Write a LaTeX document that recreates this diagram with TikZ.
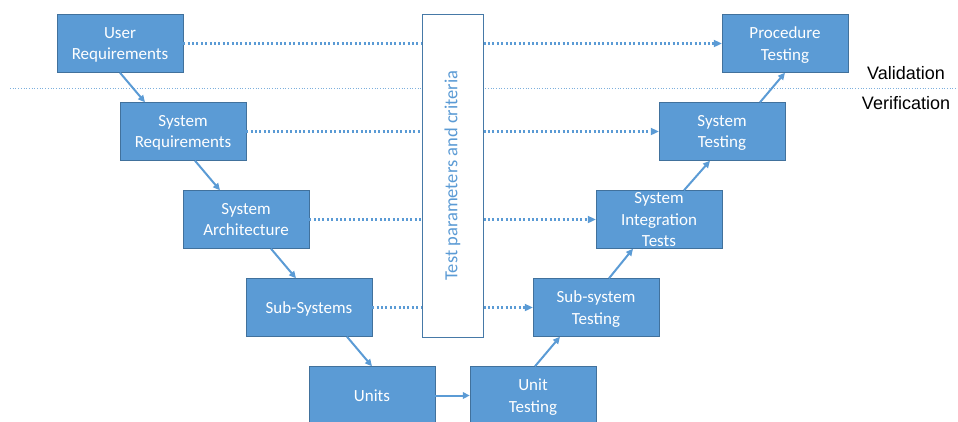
\documentclass[tikz,border=0pt]{standalone}
\usepackage{fontspec}
\setmainfont{Carlito}
\newfontfamily\sidefont{Liberation Sans}
\usetikzlibrary{positioning,arrows.meta}
\definecolor{boxblue}{HTML}{5B9BD5}
\definecolor{boxedge}{HTML}{41719C}

\begin{document}
\begin{tikzpicture}
  [x=1pt, y=1pt, node distance=88pt and 63pt, on grid,
   stage/.style={rectangle, draw=boxedge, fill=boxblue, text=white, minimum width=126pt,
     minimum height=58pt, inner sep=2pt, text depth=0pt, align=center, font=\fontsize{17}{21.5}\selectfont},
   link/.style={boxblue, line width=2.2pt, dash pattern=on 2pt off 2.4pt},
   flow/.style={boxblue, line width=2pt, -{Triangle[length=7pt,width=6.5pt]}}]

\useasboundingbox (0,0) rectangle (958,-421);

%%%  nodes

% validation / verification split
\coordinate (splitw) at (10,-88);
\coordinate (splite) at (958,-88);
\draw [boxblue!80, line width=0.7pt, dotted] (splitw) -- (splite);
\node [font=\sidefont\fontsize{18}{20}\selectfont] (val) at (906,-73) {Validation};
\node [font=\sidefont\fontsize{18}{20}\selectfont] (ver) at (906,-103) {Verification};

% test parameters
\node [draw=boxedge!80!boxblue, line width=1pt, fill=white, minimum width=61pt, minimum height=323pt] (tp) at (452.5,-175.5) {};
\node [rotate=90, text=boxblue, font=\fontsize{18.5}{20}\selectfont] (tptext) at (tp.center) {Test parameters and criteria};

% left branch
\node [stage] (ur) at (120,-43.5) {User\\Requirements};
\node [stage, below right=of ur] (sr) {System\\Requirements};
\node [stage, below right=of sr] (sa) {System\\Architecture};
\node [stage, below right=of sa] (ss) {Sub-Systems};
\node [stage, below right=of ss] (un) {Units};

% right branch
\node [stage, right=161pt of un] (ut) {Unit\\Testing};
\node [stage, above right=of ut] (sst) {Sub-system\\Testing};
\node [stage, above right=of sst] (sit) {System\\Integration\\Tests};
\node [stage, above right=of sit] (st) {System\\Testing};
\node [stage, above right=of st] (pt) {Procedure\\Testing};

%%%  edges

% down the left
\draw [flow] (ur.south) to ([xshift=-38pt]sr.north);
\draw [flow] ([xshift=12pt]sr.south) to ([xshift=-26pt]sa.north);
\draw [flow] ([xshift=25pt]sa.south) to ([xshift=-13pt]ss.north);
\draw [flow] ([xshift=38pt]ss.south) to (un.north);

% bottom
\draw [flow] (un.east) to (ut.west);

% up the right
\draw [flow] ([xshift=2pt]ut.north) to ([xshift=-36pt]sst.south);
\draw [flow] ([xshift=13pt]sst.north) to ([xshift=-26pt]sit.south);
\draw [flow] ([xshift=25pt]sit.north) to ([xshift=-12pt]st.south);
\draw [flow] ([xshift=38pt]st.north) to (pt.south);

% test links
\draw [link] (ur.east) to (ur.east -| tp.west);
\draw [link] (sr.east) to (sr.east -| tp.west);
\draw [link] (sa.east) to (sa.east -| tp.west);
\draw [link] (ss.east) to (ss.east -| tp.west);
\draw [link, -{Triangle[length=8pt,width=7pt]}] (tp.east |- pt.west) to (pt.west);
\draw [link, -{Triangle[length=8pt,width=7pt]}] (tp.east |- st.west) to (st.west);
\draw [link, -{Triangle[length=8pt,width=7pt]}] (tp.east |- sit.west) to (sit.west);
\draw [link, -{Triangle[length=8pt,width=7pt]}] (tp.east |- sst.west) to (sst.west);

\end{tikzpicture}
\end{document}
